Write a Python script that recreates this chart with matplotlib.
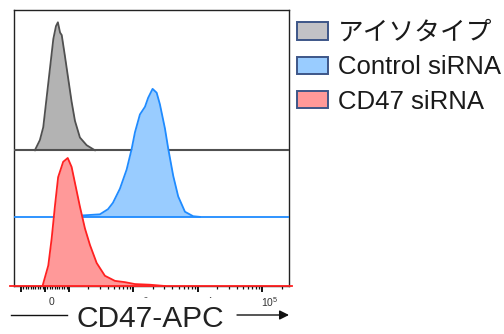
import numpy as np
import matplotlib
matplotlib.use("Agg")
import matplotlib.pyplot as plt
from matplotlib.patches import Patch

plt.rcParams["font.family"] = ["Liberation Sans", "Noto Sans CJK JP"]
plt.rcParams["mathtext.fontset"] = "custom"
plt.rcParams["mathtext.rm"] = "Liberation Sans"
plt.rcParams["mathtext.it"] = "Liberation Sans:italic"

# CD47-APC intensity (biexponential axis) and % of mode for each sample
iso_x = [-42, -21, -7, 7, 21, 35, 46, 54, 63, 70, 83, 97, 110, 124, 148, 188, 253]
iso_y = [0, 8, 18, 41, 64, 87, 97, 100, 92, 90, 74, 56, 38, 23, 10, 4, 0]

ctrl_x = [63, 148, 212, 302, 403, 481, 617, 785, 938, 1055, 1260, 1510, 1690,
          1980, 2290, 2570, 3080, 3470, 4140, 4940, 6290, 8430, 10700]
ctrl_y = [0.5, 1, 1.5, 2, 6, 11, 22, 37, 53, 66, 80, 86, 93,
          100, 97, 88, 69, 53, 32, 16, 4, 0.5, 0]

cd47_x = [-10, 14, 28, 42, 55, 76, 95, 110, 132, 148, 177, 212, 269, 361,
          517, 738, 1055, 1800, 3080]
cd47_y = [0, 16, 37, 63, 85, 97, 100, 93, 74, 62, 45, 32, 18, 8,
          4, 3, 1.5, 1, 0]

labels = ["アイソタイプ", "Control siRNA", "CD47 siRNA"]
fills = ["#b3b3b3", "#99ccff", "#ff9999"]
lines = ["#505050", "#1f8bff", "#ff2020"]
offsets = [106, 54, 0]

fig = plt.figure(figsize=(5.04, 3.34), dpi=100)
ax = fig.add_axes([14 / 504, 48 / 334, 275 / 504, 276 / 334])
ax.set_xscale("symlog", linthresh=100, linscale=0.335)
ax.set_xlim(-128, 2.58e5)
ax.set_ylim(0, 215.6)

series = [(iso_x, iso_y), (ctrl_x, ctrl_y), (cd47_x, cd47_y)]
for i in [2, 1, 0]:
    x, y = series[i]
    y = np.array(y) + offsets[i]
    ax.fill_between(x, offsets[i], y, color=fills[i], lw=0, zorder=2 + i)
    ax.plot(x, y, color=lines[i], lw=1.3, zorder=2.5 + i)
    ax.axhline(offsets[i], color=lines[i], lw=1.3 if i else 1.5,
               xmin=-0.015 if i == 2 else 0, xmax=1.01 if i == 2 else 1,
               clip_on=(i != 2), zorder=2.6 + i)

for s in ax.spines.values():
    s.set_color("#222222")
    s.set_linewidth(1)

major = [-100, 0, 100, 1e3, 1e4, 1e5]
minor = list(range(-90, 0, 10)) + list(range(10, 100, 10))
for d in [100, 1000, 10000, 100000]:
    minor += [k * d for k in range(2, 10)]
ax.set_xticks(major)
ax.set_xticks([m for m in minor if m < 2.58e5], minor=True)
ax.set_xticklabels([])
ax.set_yticks([])
ax.tick_params(axis="x", which="major", direction="out", length=4, width=1.4, color="#111111")
ax.tick_params(axis="x", which="minor", direction="out", length=2.5, width=0.9, color="#111111")

tick_vals = [0, 1e3, 1e4, 1e5]
tick_txt = ["0", "$10^3$", "$10^4$", "$10^5$"]
for v, t in zip(tick_vals, tick_txt):
    ax.annotate(t, xy=(v, 0), xycoords=("data", "axes fraction"),
                xytext=(5, -11.5), textcoords="offset points",
                ha="center", va="center", fontsize=7.5, color="#333333")

# big axis title drawn over the middle tick labels, as in the source figure
fig.text(150 / 504, 1 - 319 / 334, "CD47-APC", fontsize=21.5, color="#222222",
         ha="center", va="center",
         bbox=dict(facecolor="white", edgecolor="none", pad=5))
fig.add_artist(plt.Line2D([11 / 504, 67 / 504], [19 / 334, 19 / 334],
                          color="#111111", lw=1))
ax.annotate("", xy=(289, 19), xycoords="figure pixels",
            xytext=(237, 19), textcoords="figure pixels",
            arrowprops=dict(arrowstyle="-|>", color="#111111", lw=1,
                            mutation_scale=14, shrinkA=0, shrinkB=0))

handles = [Patch(facecolor=c, edgecolor="#3d5688", lw=1.4)
           for c in ["#c2c2c6", "#99ccff", "#ff9999"]]
fig.legend(handles, labels, loc="upper left",
           bbox_to_anchor=(297 / 504, 1 - 21 / 334), frameon=False,
           fontsize=18.5, handlelength=1.2, handleheight=0.66,
           handletextpad=0.4, labelspacing=0.4, borderpad=0,
           borderaxespad=0, labelcolor="#1a1a1a")

fig.savefig("out.png", dpi=100)
